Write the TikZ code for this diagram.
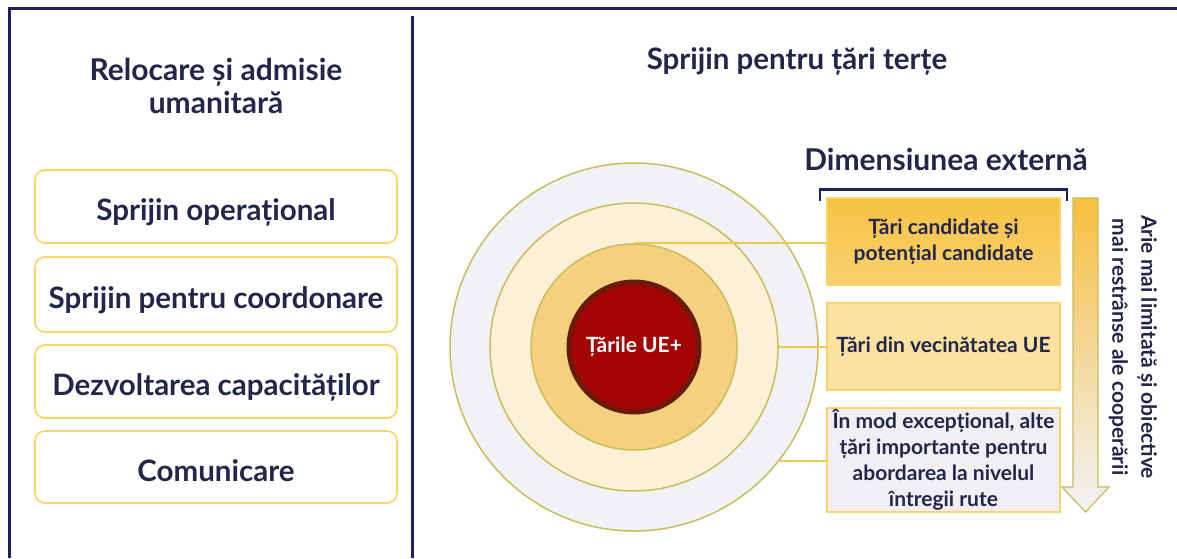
\documentclass[tikz,border=0pt]{standalone}
\usepackage{fontspec}
\setmainfont{Lato}
\usetikzlibrary{calc}
\definecolor{navy}{HTML}{23264B}
\definecolor{frame}{HTML}{1E2060}
\definecolor{goldline}{HTML}{F9D36A}
\definecolor{ringline}{HTML}{C9BC5A}
\definecolor{ringA}{HTML}{F1F2F7}
\definecolor{ringB}{HTML}{FCF0D6}
\definecolor{ringC}{HTML}{F5D07E}
\definecolor{coreF}{HTML}{A50404}
\definecolor{coreR}{HTML}{6A1A0B}
\definecolor{boxA}{HTML}{F6C241}
\definecolor{boxB}{HTML}{FBE2A0}
\definecolor{boxC}{HTML}{F1EFF3}
\definecolor{connect}{HTML}{F3C84A}
\tikzset{
  leftbox/.style={draw=goldline, line width=1.6pt, fill=white, rounded corners=10pt,
    minimum width=362pt, text=navy, font=\fontsize{29.5}{34}\selectfont\bfseries, inner sep=0pt,
    text height=28pt, text depth=0pt},
  rightbox/.style={draw=goldline, line width=1.6pt, minimum width=233pt, text=navy,
    font=\fontsize{21}{26}\selectfont\bfseries, align=center, inner sep=0pt},
  title/.style={text=navy, font=\fontsize{30}{33}\selectfont\bfseries, align=center},
  ring/.style={circle, draw=ringline, line width=1.5pt, inner sep=0pt},
  conn/.style={draw=connect, line width=1.6pt},
}
\begin{document}
\begin{tikzpicture}[x=1pt,y=-1pt]
\useasboundingbox (0,0) rectangle (1177,558);
\fill[white] (0,0) rectangle (1177,558);
% frame
\draw[frame, line width=3pt] (9.5,558) -- (9.5,8.5) -- (1177,8.5);
\draw[frame, line width=3pt] (412.5,16) -- (412.5,558);
% titles
\node[title] (tleft) at (216,86) {Relocare și admisie\\umanitară};
\node[title, font=\fontsize{29.5}{33}\selectfont\bfseries] (tright) at (797,61) {Sprijin pentru țări terțe};
\node[title, font=\fontsize{30}{33}\selectfont\bfseries] (tdim) at (946,159) {Dimensiunea externă};
% left boxes
\node[leftbox, minimum height=73pt] (l1) at (216,206.5) {Sprijin operațional};
\node[leftbox, minimum height=75pt] (l2) at (216,294.5) {Sprijin pentru coordonare};
\node[leftbox, minimum height=73pt] (l3) at (216,381.5) {Dezvoltarea capacităților};
\node[leftbox, minimum height=72pt] (l4) at (216,467) {Comunicare};
% rings
\node[ring, fill=ringA, minimum size=368pt] (r1) at (634,347) {};
\node[ring, fill=ringB, minimum size=288pt] (r2) at (634,347) {};
\node[ring, fill=ringC, minimum size=206pt] (r3) at (634,347) {};
\node[circle, fill=coreF, draw=coreR, line width=5pt, minimum size=130pt, inner sep=0pt,
  text=white, font=\fontsize{21}{24}\selectfont\bfseries] (core) at (634,347) {Țările UE+};
% right boxes
\node[rightbox, top color=boxA, bottom color=boxA!75!white, minimum height=87pt] (b1) at (943.5,241.5) {Țări candidate și\\potențial candidate};
\node[rightbox, fill=boxB, minimum height=87pt] (b2) at (943.5,346.5) {Țări din vecinătatea UE};
\node[rightbox, fill=boxC, minimum height=104pt] (b3) at (943.5,460) {În mod excepțional, alte\\țări importante pentru\\abordarea la nivelul\\întregii rute};
% connectors
\draw[conn] (r3.north) -- (r3.north -| b1.west);
\draw[conn] (r2.east) -- (r2.east -| b2.west);
\draw[conn] (r1.-38) -- (r1.-38 -| b3.west);
% bracket
\draw[frame, line width=2.5pt] (820,201) -- (820,189.5) -- (1067,189.5) -- (1067,201);
% arrow
\shade[top color=boxA!95!orange, bottom color=ringA] (1073,198) -- (1098,198) -- (1098,487) -- (1109,487) -- (1085.5,512) -- (1062,487) -- (1073,487) -- cycle;
\draw[ringline, line width=1.2pt, line join=miter] (1073,198) -- (1098,198) -- (1098,487) -- (1109,487) -- (1085.5,512) -- (1062,487) -- (1073,487) -- cycle;
% rotated text
\node[title, rotate=-90, font=\fontsize{21}{29}\selectfont\bfseries] (side) at (1133,347) {Arie mai limitată și obiective\\mai restrânse ale cooperării};
\end{tikzpicture}
\end{document}
